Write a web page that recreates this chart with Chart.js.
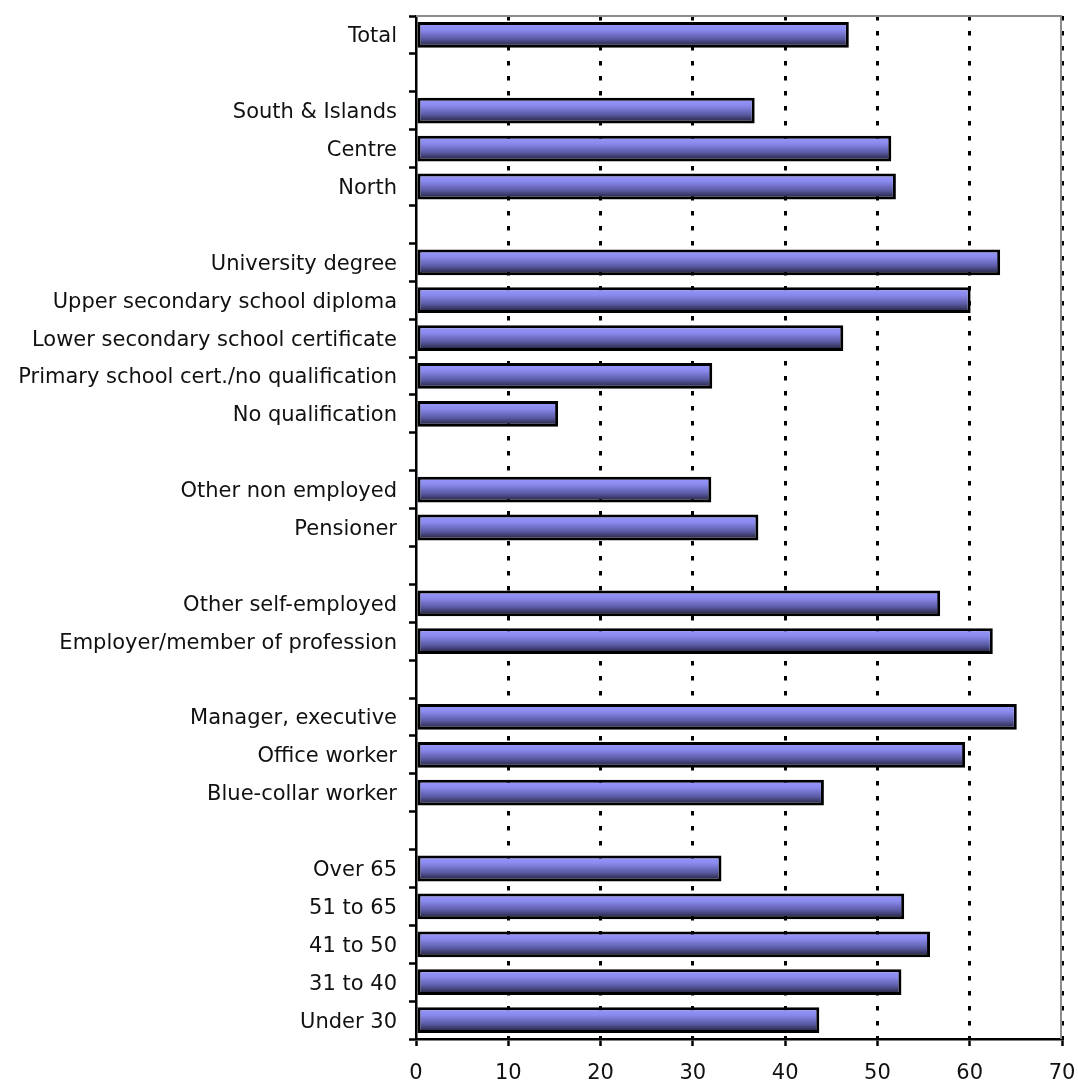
<!DOCTYPE html>
<html>
<head>
<meta charset="utf-8">
<script src="https://cdn.jsdelivr.net/npm/chart.js@4/dist/chart.umd.min.js"></script>
<style>
  html, body { margin: 0; padding: 0; background: #fff; }
  #wrap { width: 1078px; height: 1081px; }
</style>
</head>
<body>
<div id="wrap"><canvas id="chart"></canvas></div>
<script>
// --- DATA (top to bottom, '' = spacer row) ---
const categories = [
    'Total', '',
    'South & Islands', 'Centre', 'North', '',
    'University degree', 'Upper secondary school diploma', 'Lower secondary school certificate',
    'Primary school cert./no qualification', 'No qualification', '',
    'Other non employed', 'Pensioner', '',
    'Other self-employed', 'Employer/member of profession', '',
    'Manager, executive', 'Office worker', 'Blue-collar worker', '',
    'Over 65', '51 to 65', '41 to 50', '31 to 40', 'Under 30'
];
const values = [
    46.9, null,
    36.7, 51.5, 52.0, null,
    63.3, 60.1, 46.3, 32.1, 15.4, null,
    32.0, 37.1, null,
    56.8, 62.5, null,
    65.1, 59.5, 44.2, null,
    33.1, 52.9, 55.7, 52.6, 43.7
];
const xTicks = [0, 10, 20, 30, 40, 50, 60, 70];

const FONT = 'DejaVu Sans, Verdana, sans-serif';
const BAR_PCT = 0.68;

// vertical gradient for each bar, from its own top to bottom
function barFill(c) {
    const chart = c.chart;
    const y = chart.scales.y;
    if (!chart.chartArea || !y || c.dataIndex === undefined) return '#7a7ad8';
    const mid = y.getPixelForValue(c.dataIndex);
    const h = y.height / categories.length * BAR_PCT;
    const g = chart.ctx.createLinearGradient(0, mid - h / 2, 0, mid + h / 2);
    g.addColorStop(0, '#9a9aff');
    g.addColorStop(0.3, '#8a8aee');
    g.addColorStop(0.65, '#5a5aa4');
    g.addColorStop(1, '#181828');
    return g;
}

// grey frame on top and right
const frame = {
    id: 'frame',
    afterDatasetsDraw(chart) {
        const { ctx, chartArea: a } = chart;
        ctx.save();
        ctx.strokeStyle = '#8c8c8c';
        ctx.lineWidth = 2;
        ctx.beginPath();
        ctx.moveTo(a.left, a.top);
        ctx.lineTo(a.right - 1, a.top);
        ctx.lineTo(a.right - 1, a.bottom);
        ctx.stroke();
        ctx.restore();
    }
};

new Chart(document.getElementById('chart'), {
    type: 'bar',
    data: {
        labels: categories,
        datasets: [{
            data: values,
            backgroundColor: barFill,
            borderColor: '#000',
            borderWidth: 3,
            borderSkipped: false,
            categoryPercentage: 1,
            barPercentage: BAR_PCT
        }]
    },
    options: {
        indexAxis: 'y',
        responsive: true,
        maintainAspectRatio: false,
        animation: false,
        layout: { padding: { top: 16, right: 16, left: 0, bottom: 0 } },
        plugins: { legend: { display: false }, tooltip: { enabled: false } },
        scales: {
            x: {
                min: 0, max: 70,
                afterBuildTicks: s => { s.ticks = xTicks.map(v => ({ value: v })); },
                afterFit: s => { s.height = 42; s.paddingLeft = 0; s.paddingRight = 0; },
                grid: {
                    color: c => (c.tick && c.tick.value === 0) ? 'rgba(0,0,0,0)' : '#000',
                    lineWidth: 3,
                    tickColor: '#000',
                    tickWidth: 2.5,
                    tickLength: 7
                },
                border: { display: true, color: '#000', width: 2.5, dash: [4.5, 10.5] },
                ticks: { color: '#111', padding: 15, font: { family: FONT, size: 21 } }
            },
            y: {
                afterFit: s => { s.width = 416; s.paddingTop = 0; s.paddingBottom = 0; },
                grid: {
                    offset: true,
                    drawOnChartArea: false,
                    tickColor: '#000',
                    tickWidth: 2.5,
                    tickLength: 7
                },
                border: { display: true, color: '#000', width: 2.5 },
                ticks: { color: '#111', padding: 12, labelOffset: 2, autoSkip: false, font: { family: FONT, size: 21 } }
            }
        }
    },
    plugins: [frame]
});
</script>
</body>
</html>
